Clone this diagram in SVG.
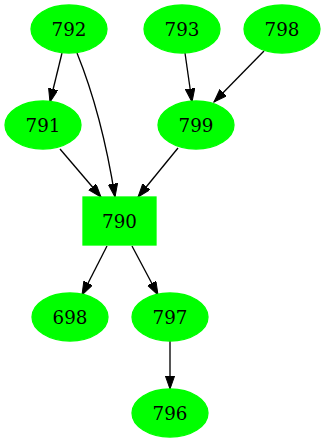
<svg xmlns="http://www.w3.org/2000/svg" width="326" height="443" viewBox="0 0 326 443">
<style>
.n{fill:#00ff00;stroke:#00ff00;stroke-width:1.3}
.t{font-family:"DejaVu Serif","Liberation Serif",serif;font-size:18.3px;fill:#000;text-anchor:middle}
.e{fill:none;stroke:#000;stroke-width:1.33;marker-end:url(#a)}
</style>
<defs>
<marker id="a" markerUnits="userSpaceOnUse" markerWidth="14" markerHeight="10" refX="13.3" refY="4.7" orient="auto">
<path d="M0,0 L13.3,4.7 L0,9.4 z" fill="#000" stroke="#000" stroke-width="1"/>
</marker>
</defs>
<rect width="326" height="443" fill="#fff"/>
<g id="edges">
<path class="e" d="M62,53 L50,102"/>
<path class="e" d="M77,53 C92,90 106,140 115,197"/>
<path class="e" d="M60,149 L101,197"/>
<path class="e" d="M178,148 L138,197"/>
<path class="e" d="M185,53 L192,102"/>
<path class="e" d="M264,51 L214,102"/>
<path class="e" d="M107,246 L82,295"/>
<path class="e" d="M132,246 L158,295"/>
<path class="e" d="M170,341 L170,389"/>
</g>
<g id="n792"><ellipse class="n" cx="69" cy="29" rx="38" ry="24"/><text class="t" x="69" y="35.5">792</text></g>
<g id="n793"><ellipse class="n" cx="182" cy="29" rx="38" ry="24"/><text class="t" x="182" y="35.5">793</text></g>
<g id="n798"><ellipse class="n" cx="282" cy="29" rx="38" ry="24"/><text class="t" x="282" y="35.5">798</text></g>
<g id="n791"><ellipse class="n" cx="43" cy="125" rx="38" ry="24"/><text class="t" x="43" y="131.5">791</text></g>
<g id="n799"><ellipse class="n" cx="196" cy="125" rx="38" ry="24"/><text class="t" x="196" y="131.5">799</text></g>
<g id="n790"><rect class="n" x="83" y="197" width="73" height="48"/><text class="t" x="119.5" y="227.5">790</text></g>
<g id="n698"><ellipse class="n" cx="70" cy="317" rx="38" ry="24"/><text class="t" x="70" y="323.5">698</text></g>
<g id="n797"><ellipse class="n" cx="170" cy="317" rx="38" ry="24"/><text class="t" x="170" y="323.5">797</text></g>
<g id="n796"><ellipse class="n" cx="170" cy="413" rx="38" ry="24"/><text class="t" x="170" y="419.5">796</text></g>
</svg>
